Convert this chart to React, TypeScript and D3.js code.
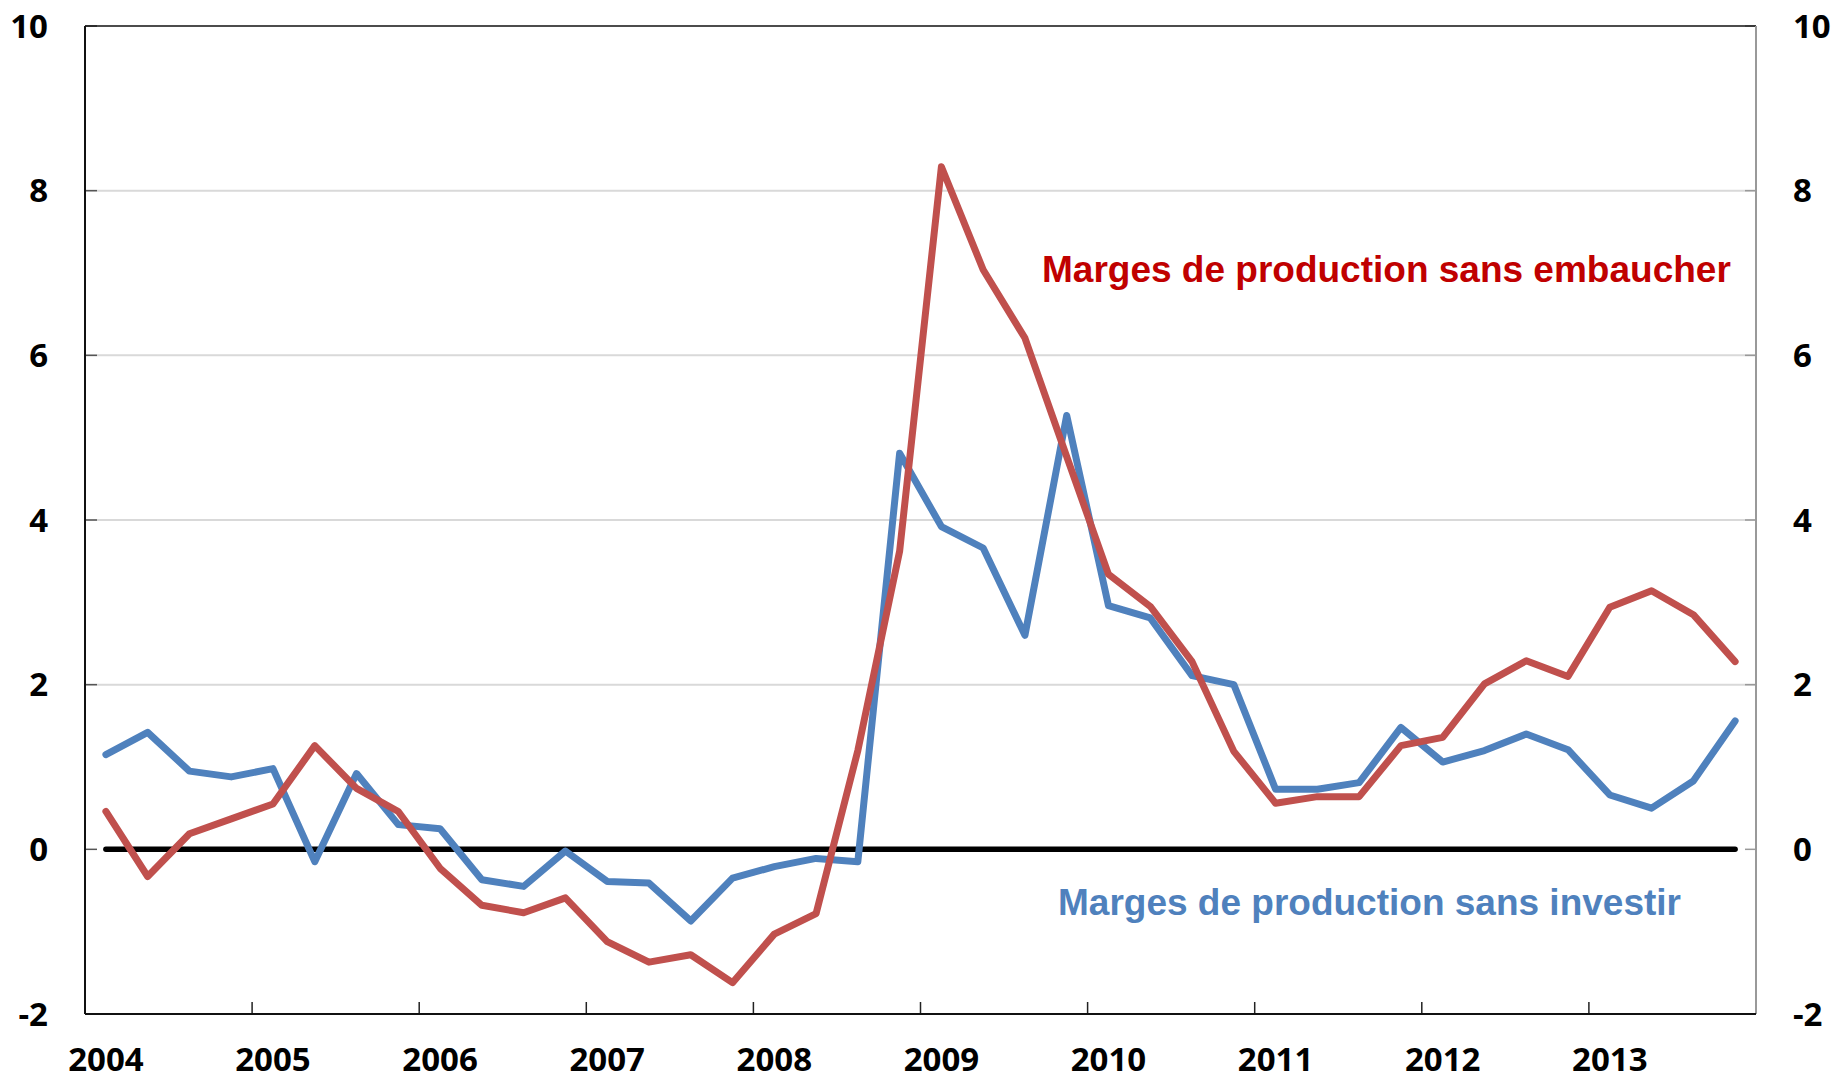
import React from "react";
import * as d3 from "d3";

const years = ["2004", "2005", "2006", "2007", "2008", "2009", "2010", "2011", "2012", "2013"];
const quarters = years.flatMap((y) => ["T1", "T2", "T3", "T4"].map((q) => `${y}${q}`));

const sansInvestir = [
  1.15, 1.42, 0.95, 0.88, 0.98, -0.15, 0.92, 0.3, 0.25, -0.37,
  -0.45, -0.02, -0.39, -0.41, -0.87, -0.35, -0.21, -0.11, -0.15, 4.81,
  3.92, 3.66, 2.6, 5.27, 2.96, 2.81, 2.11, 2.0, 0.73, 0.73,
  0.81, 1.48, 1.06, 1.2, 1.4, 1.21, 0.66, 0.5, 0.83, 1.56,
];
const sansEmbaucher = [
  0.46, -0.33, 0.19, 0.37, 0.55, 1.26, 0.74, 0.46, -0.23, -0.68,
  -0.77, -0.59, -1.12, -1.37, -1.28, -1.62, -1.03, -0.78, 1.2, 3.62,
  8.29, 7.04, 6.21, 4.77, 3.34, 2.95, 2.28, 1.19, 0.56, 0.64,
  0.64, 1.26, 1.36, 2.01, 2.29, 2.1, 2.94, 3.14, 2.85, 2.28,
];
const yTicks = [-2, 0, 2, 4, 6, 8, 10];
const gridValues = [2, 4, 6, 8];

const labelRed = "Marges de production sans embaucher";
const labelBlue = "Marges de production sans investir";

const W = 1835;
const H = 1080;
const left = 85;
const right = 1756;
const top = 26;
const bottom = 1014;

export default function App() {
  const x = d3.scaleBand<string>().domain(quarters).range([left, right]).padding(0);
  const bw = x.bandwidth();
  const cx = (i: number) => (x(quarters[i]) as number) + bw / 2;
  const y = d3.scaleLinear().domain([-2, 10]).range([bottom, top]);

  const line = d3
    .line<number>()
    .x((_, i) => cx(i))
    .y((d) => y(d));

  const axisFont = "'Open Sans', 'DejaVu Sans', sans-serif";
  const labelFont = "'Liberation Sans', Arial, sans-serif";

  const yearBoundaries = years.slice(1).map((yr) => x(`${yr}T1`) as number);

  return (
    <svg
      width={W}
      height={H}
      style={{ position: "absolute", left: 0, top: 0, background: "#fff" }}
    >
      <rect x={0} y={0} width={W} height={H} fill="#fff" />
      {gridValues.map((v) => (
        <line key={v} x1={left} x2={right} y1={y(v)} y2={y(v)} stroke="#d9d9d9" strokeWidth={2} />
      ))}
      {/* left axis ticks */}
      {yTicks.map((v) => (
        <line key={"lt" + v} x1={left} x2={left + 12} y1={y(v)} y2={y(v)} stroke="#555" strokeWidth={1.5} />
      ))}
      {/* right axis ticks */}
      {yTicks.map((v) => (
        <line key={"rt" + v} x1={right - 11} x2={right} y1={y(v)} y2={y(v)} stroke="#999" strokeWidth={1.5} />
      ))}
      {/* x ticks */}
      {yearBoundaries.map((bx, i) => (
        <line key={"xt" + i} x1={bx} x2={bx} y1={bottom - 12} y2={bottom} stroke="#222" strokeWidth={1.5} />
      ))}
      {/* frame */}
      <line x1={left} x2={right} y1={top} y2={top} stroke="#111" strokeWidth={1.5} />
      <line x1={right} x2={right} y1={top} y2={bottom} stroke="#999" strokeWidth={2} />
      <line x1={left} x2={right} y1={bottom} y2={bottom} stroke="#111" strokeWidth={2} />
      <line x1={left} x2={left} y1={top} y2={bottom} stroke="#111" strokeWidth={2} />

      {/* zero line */}
      <line
        x1={cx(0)}
        x2={cx(quarters.length - 1)}
        y1={y(0)}
        y2={y(0)}
        stroke="#000"
        strokeWidth={5.5}
        strokeLinecap="round"
      />

      <path
        d={line(sansInvestir) as string}
        fill="none"
        stroke="#4F81BD"
        strokeWidth={7}
        strokeLinejoin="round"
        strokeLinecap="round"
      />
      <path
        d={line(sansEmbaucher) as string}
        fill="none"
        stroke="#C0504D"
        strokeWidth={7}
        strokeLinejoin="round"
        strokeLinecap="round"
      />

      {/* y labels left */}
      {yTicks.map((v) => (
        <text
          key={"yl" + v}
          x={48}
          y={y(v) + 11.8}
          textAnchor="end"
          fontFamily={axisFont}
          fontWeight="bold"
          fontSize={33}
          fill="#000"
        >
          {v}
        </text>
      ))}
      {/* y labels right */}
      {yTicks.map((v) => (
        <text
          key={"yr" + v}
          x={1793}
          y={y(v) + 11.8}
          textAnchor="start"
          fontFamily={axisFont}
          fontWeight="bold"
          fontSize={33}
          fill="#000"
        >
          {v}
        </text>
      ))}
      {/* x labels */}
      {years.map((yr) => (
        <text
          key={"xl" + yr}
          x={cx(quarters.indexOf(`${yr}T1`))}
          y={1071}
          textAnchor="middle"
          fontFamily={axisFont}
          fontWeight="bold"
          fontSize={33}
          fill="#000"
        >
          {yr}
        </text>
      ))}

      <text x={1042} y={282} fontFamily={labelFont} fontWeight="bold" fontSize={37} fill="#C00000">
        {labelRed}
      </text>
      <text x={1058} y={915} fontFamily={labelFont} fontWeight="bold" fontSize={37} fill="#4F81BD">
        {labelBlue}
      </text>
    </svg>
  );
}
